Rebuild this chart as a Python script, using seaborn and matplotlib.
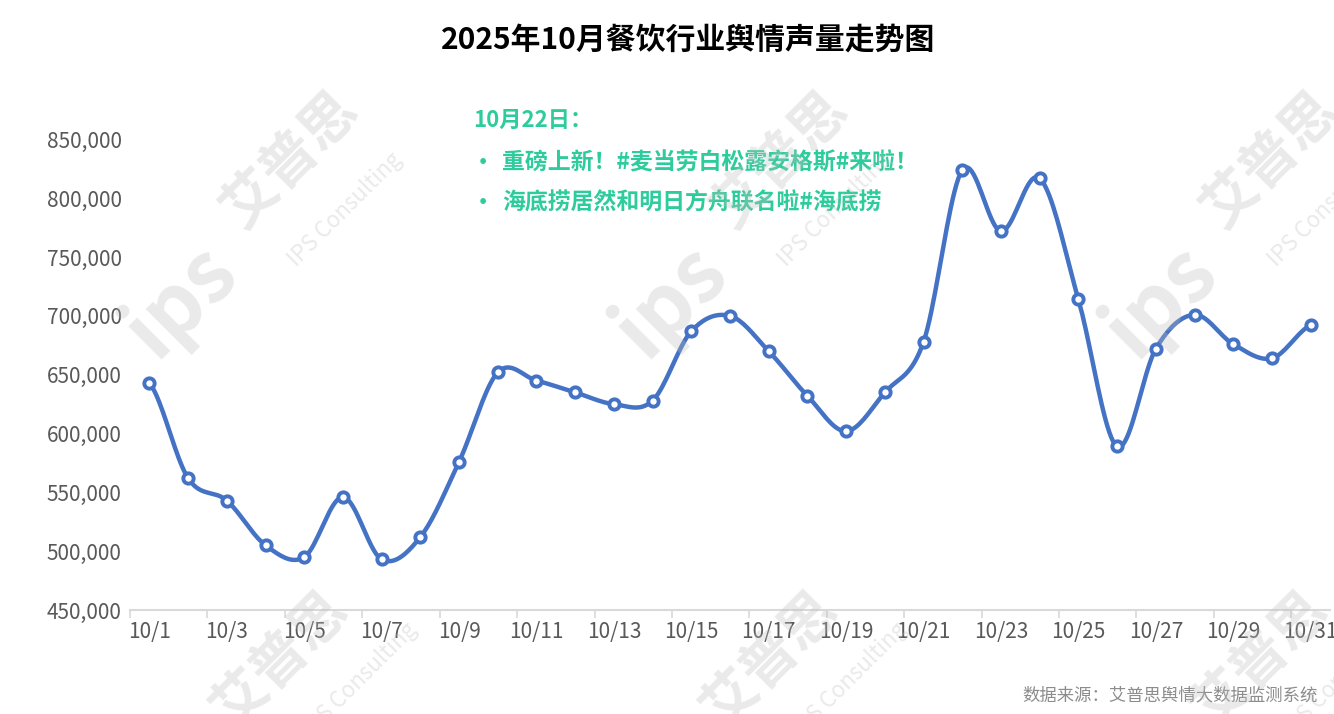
import numpy as np
import pandas as pd
import seaborn as sns
import matplotlib as mpl
from matplotlib import pyplot as plt

sns.set_style('white')
plt.rcParams['font.family'] = ['Noto Sans CJK SC', 'DejaVu Sans']

days = ['10/%d' % d for d in range(1, 32)]
volume = [643000, 562000, 543000, 505000, 495000, 546000, 493000, 512000,
          576000, 652000, 645000, 635000, 625000, 628000, 687000, 700000,
          670000, 632000, 602000, 635000, 678000, 824000, 772000, 817000,
          714000, 589000, 672000, 701000, 676000, 664000, 692000]
y_ticks = [450000, 500000, 550000, 600000, 650000, 700000, 750000, 800000, 850000]

title = '2025年10月餐饮行业舆情声量走势图'
note_head = '10月22日：'
note_items = ['重磅上新！#麦当劳白松露安格斯#来啦！', '海底捞居然和明日方舟联名啦#海底捞']
source = '数据来源：艾普思舆情大数据监测系统'

df = pd.DataFrame({'日期': days, '声量': volume})
df['idx'] = range(len(df))

blue = '#4472C4'
teal = '#2ECC9C'
gray = '#595959'


# smoothed line like excel (catmull-rom)
def smooth(x, y, n=20):
    x = np.asarray(x, float)
    y = np.asarray(y, float)
    px = np.concatenate([[2 * x[0] - x[1]], x, [2 * x[-1] - x[-2]]])
    py = np.concatenate([[y[0]], y, [y[-1]]])
    xs, ys = [], []
    t = np.linspace(0, 1, n, endpoint=False)
    for i in range(1, len(px) - 2):
        for p, out in ((px, xs), (py, ys)):
            p0, p1, p2, p3 = p[i - 1], p[i], p[i + 1], p[i + 2]
            out.extend(0.5 * (2 * p1 + (-p0 + p2) * t
                              + (2 * p0 - 5 * p1 + 4 * p2 - p3) * t ** 2
                              + (-p0 + 3 * p1 - 3 * p2 + p3) * t ** 3))
    xs.append(x[-1])
    ys.append(y[-1])
    return np.array(xs), np.array(ys)


fig = plt.figure(figsize=(13.34, 7.14), dpi=100)
ax = fig.add_axes([0.0975, 0.1457, 0.8995, 0.7413])

sx, sy = smooth(df['idx'], df['声量'])
ax.plot(sx, sy, color=blue, lw=3.2, zorder=2, solid_capstyle='round')
sns.scatterplot(data=df, x='idx', y='声量', ax=ax, s=55, color='white',
                edgecolor=blue, linewidth=2.8, zorder=3, legend=False)

ax.set_xlim(-0.5, 30.5)
ax.set_ylim(450000, 900000)
ax.set_yticks(y_ticks)
ax.set_yticklabels(['{:,}'.format(v) for v in y_ticks], color=gray, fontsize=15, fontweight='light')
ax.set_xticks(range(0, 31, 2))
ax.set_xticklabels(days[::2], color=gray, fontsize=15, fontweight='light')
ax.set_xticks(np.arange(-0.5, 30.5, 2), minor=True)
ax.tick_params(axis='x', which='major', length=0, pad=8)
ax.tick_params(axis='x', which='minor', length=6, width=1.2, color='#d9d9d9', direction='out', bottom=True)
ax.tick_params(axis='y', length=0, pad=6)
ax.set_xlabel('')
ax.set_ylabel('')
for s in ['top', 'right', 'left']:
    ax.spines[s].set_visible(False)
ax.spines['bottom'].set_color('#d9d9d9')
ax.spines['bottom'].set_linewidth(1.5)

fig.text(0.5157, 0.944, title, ha='center', va='center', fontsize=21.5, fontweight='bold', color='black')

fig.text(473 / 1334, 1 - 120 / 714, note_head, ha='left', va='center', fontsize=16, fontweight='bold', color=teal)
for k, item in enumerate(note_items):
    yy = 1 - (163 + 40 * k) / 714
    fig.text(472 / 1334, yy, '•', ha='left', va='center', fontsize=16, fontweight='bold', color=teal)
    fig.text(502 / 1334, yy, item, ha='left', va='center', fontsize=16.5, fontweight='bold', color=teal)

fig.text(1318 / 1334, 1 - 695 / 714, source, ha='right', va='center', fontsize=12.5, color='#8c8c8c')

# watermarks
wm = dict(rotation=45, ha='center', va='center', color='#bdbdbd', alpha=0.32, zorder=10, clip_on=True)
for dx in [0, 490, 980]:
    fig.text((290 + dx) / 1334, 1 - 160 / 714, '艾普思', fontsize=40, fontweight='bold', **wm)
    fig.text((345 + dx) / 1334, 1 - 210 / 714, 'IPS Consulting', fontsize=16, **wm)
    fig.text((180 + dx) / 1334, 1 - 300 / 714, 'ips', fontsize=60, fontweight='bold', **wm)
    fig.text((280 + dx) / 1334, 1 - 660 / 714, '艾普思', fontsize=40, fontweight='bold', **wm)
    fig.text((360 + dx) / 1334, 1 - 680 / 714, 'IPS Consulting', fontsize=16, **wm)

plt.savefig('out.png', dpi=100)
